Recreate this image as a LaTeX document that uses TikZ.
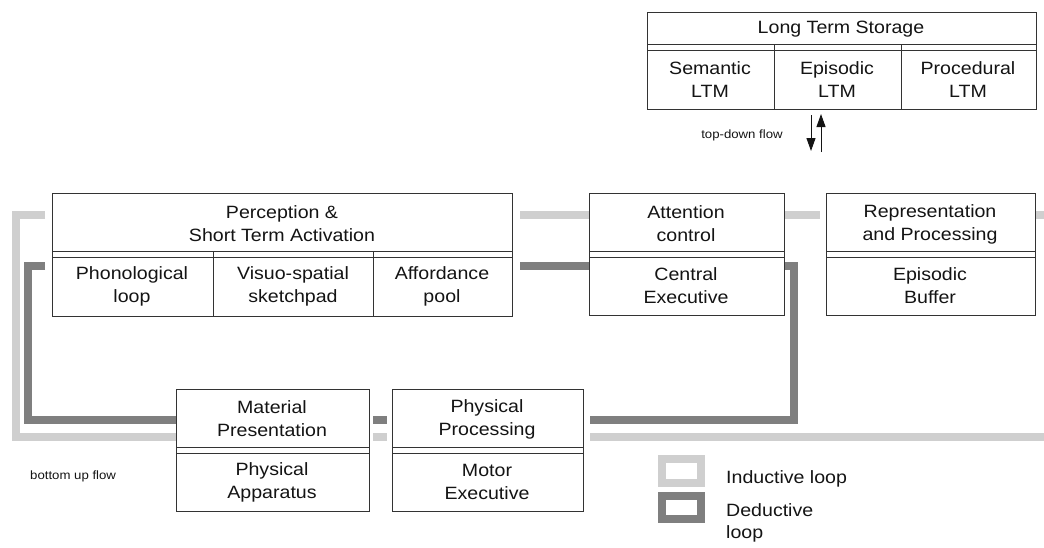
\documentclass[tikz,border=0pt]{standalone}
\usepackage{fontspec}
\setmainfont{Liberation Sans}[FakeStretch=1.1]
\usetikzlibrary{arrows.meta}
\definecolor{lightg}{HTML}{CFCFCF}
\definecolor{darkg}{HTML}{7F7F7F}
\definecolor{edge}{HTML}{333333}
\definecolor{ink}{HTML}{141414}
\tikzset{
  box/.style={draw=edge, line width=1.2pt, fill=white, anchor=north west, inner sep=0pt},
  sep/.style={draw=edge, line width=1pt},
  lbl/.style={text=ink, align=center, inner sep=0pt, font=\fontsize{17.8}{23}\selectfont},
  small/.style={text=ink, inner sep=0pt, font=\fontsize{12}{14}\selectfont},
  legtext/.style={text=ink, inner sep=0pt, align=left, font=\fontsize{17.8}{22}\selectfont},
  indloop/.style={draw=lightg, line width=8pt, line join=miter},
  dedloop/.style={draw=darkg, line width=8pt, line join=miter},
  flow/.style={draw=ink, line width=1pt, -{Triangle[width=9pt,length=13pt]}}
}
\begin{document}
\begin{tikzpicture}[x=1pt,y=-1pt]
\useasboundingbox (0,0) rectangle (1044,547);

% ---- inductive loop (light)
\draw[indloop] (45,215) -- (16,215) -- (16,437) -- (176,437);
\draw[indloop] (520,215) -- (589,215);
\draw[indloop] (784,215) -- (820,215);
\draw[indloop] (1035,215) -- (1044,215);
\draw[indloop] (373,437) -- (387,437);
\draw[indloop] (590,437) -- (1044,437);
% ---- deductive loop (dark)
\draw[dedloop] (45,266) -- (28,266) -- (28,420) -- (176,420);
\draw[dedloop] (520,266) -- (589,266);
\draw[dedloop] (784,266) -- (794,266) -- (794,420) -- (590,420);
\draw[dedloop] (373,420) -- (387,420);

% ---- Long Term Storage
\node[box, minimum width=389, minimum height=97] (lts) at (647,12) {};
\draw[sep] (647,44) -- (1036,44);
\draw[sep] (647,50) -- (1036,50);
\draw[sep] (774,44) -- (774,109);
\draw[sep] (901,44) -- (901,109);
\node[lbl] (ltsT) at (841,29) {Long Term Storage};
\node[lbl] (sem) at (710,80) {Semantic\\LTM};
\node[lbl] (epi) at (837,80) {Episodic\\LTM};
\node[lbl] (pro) at (968,80) {Procedural\\LTM};

% ---- top-down flow arrows
\coordinate (dTop) at (811,115);
\coordinate (dBot) at (811,151);
\coordinate (uBot) at (821,152);
\coordinate (uTop) at (821,114);
\draw[flow] (dTop) -- (dBot);
\draw[flow] (uBot) -- (uTop);
\node[small] (tdf) at (742,135) {top-down flow};

% ---- Perception & Short Term Activation
\node[box, minimum width=460, minimum height=123] (perc) at (52,193) {};
\draw[sep] (52,251) -- (512,251);
\draw[sep] (52,257) -- (512,257);
\draw[sep] (213,251) -- (213,316);
\draw[sep] (373,251) -- (373,316);
\node[lbl] (percT) at (282,224) {Perception \&\\Short Term Activation};
\node[lbl] (phon) at (132,286) {Phonological\\loop};
\node[lbl] (visuo) at (293,286) {Visuo-spatial\\sketchpad};
\node[lbl] (aff) at (442,286) {Affordance\\pool};

% ---- Attention control
\node[box, minimum width=195, minimum height=122] (att) at (589,193) {};
\draw[sep] (589,251) -- (784,251);
\draw[sep] (589,257) -- (784,257);
\node[lbl] (attT) at (686,224) {Attention\\control};
\node[lbl] (ce) at (686,286) {Central\\Executive};

% ---- Representation and Processing
\node[box, minimum width=209, minimum height=122] (rep) at (826,193) {};
\draw[sep] (826,251) -- (1035,251);
\draw[sep] (826,257) -- (1035,257);
\node[lbl] (repT) at (930,224) {Representation\\and Processing};
\node[lbl] (eb) at (930,286) {Episodic\\Buffer};

% ---- Material Presentation
\node[box, minimum width=193, minimum height=122] (mat) at (176,389) {};
\draw[sep] (176,447) -- (369,447);
\draw[sep] (176,453) -- (369,453);
\node[lbl] (matT) at (272,419) {Material\\Presentation};
\node[lbl] (pa) at (272,482) {Physical\\Apparatus};

% ---- Physical Processing
\node[box, minimum width=191, minimum height=122] (phys) at (392,389) {};
\draw[sep] (392,447) -- (583,447);
\draw[sep] (392,453) -- (583,453);
\node[lbl] (physT) at (487,419) {Physical\\Processing};
\node[lbl] (me) at (487,482) {Motor\\Executive};

% ---- bottom up flow
\node[small, anchor=west] (buf) at (30,476) {bottom up flow};

% ---- legend
\node[draw=lightg, line width=8pt, minimum width=39, minimum height=24, inner sep=0pt] (legI) at (681.5,471) {};
\node[draw=darkg, line width=8pt, minimum width=39, minimum height=23, inner sep=0pt] (legD) at (681.5,507.5) {};
\node[legtext, anchor=west] (legIT) at (726,479) {Inductive loop};
\node[legtext, anchor=north west] (legDT) at (726,503) {Deductive\\loop};
\end{tikzpicture}
\end{document}
